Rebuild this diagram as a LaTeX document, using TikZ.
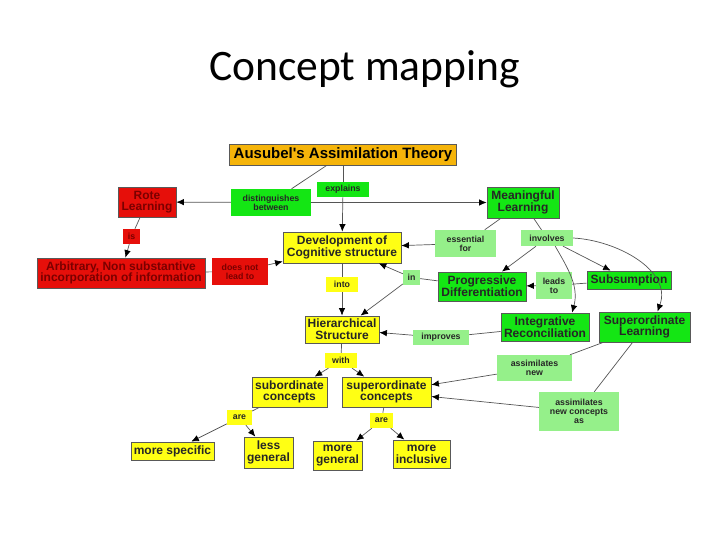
\documentclass[tikz,border=0pt]{standalone}
\usepackage{fontspec}
\setmainfont{Liberation Sans}
\newfontfamily\titlefont{Carlito}
\usetikzlibrary{arrows.meta,calc}
\definecolor{aorange}{HTML}{F5B40A}
\definecolor{ared}{HTML}{E60F0A}
\definecolor{adred}{HTML}{7A0000}
\definecolor{agreen}{HTML}{14E614}
\definecolor{alight}{HTML}{95F08A}
\definecolor{ayellow}{HTML}{FFFF14}
\definecolor{aline}{HTML}{555555}
\begin{document}
\begin{tikzpicture}[x=1pt,y=1pt,
 box/.style={draw=black!65,line width=.8pt,inner sep=0pt,align=center,font=\bfseries\fontsize{12}{11.7}\selectfont},
 lab/.style={inner sep=0pt,align=center,font=\bfseries\fontsize{8.8}{9.2}\selectfont},
 wh/.style 2 args={minimum width=#1,minimum height=#2},
 rd/.style={fill=ared,text=adred},gr/.style={fill=agreen,text=black!85},
 lg/.style={fill=alight,text=black!85},yl/.style={fill=ayellow,text=black!85},
 ln/.style={draw=aline,line width=.7pt},ar/.style={ln,-{Latex[length=7.5pt,width=6.5pt,color=black]}}]
\useasboundingbox(0,0)rectangle(728,-546);
\node[font=\titlefont\fontsize{43.5}{50}\selectfont,anchor=base](title)at(364.5,-80){Concept mapping};
% concepts and linking words
\node[box,fill=aorange,wh={227}{21},font=\bfseries\fontsize{15}{16}\selectfont](aus)at(343,-154.5){Ausubel\textquotesingle s Assimilation Theory};
\node[box,rd,wh={58}{30}](rote)at(147,-202){Rote\\Learning};
\node[lab,gr,wh={80}{27}](dist)at(271,-202.5){distinguishes\\between};
\node[lab,gr,wh={52}{15}](expl)at(343,-189.5){explains};
\node[box,gr,wh={72}{31}](mean)at(523,-202.5){Meaningful\\Learning};
\node[box,yl,wh={118}{31}](dev)at(342,-247.5){Development of\\Cognitive structure};
\node[lab,rd,wh={17}{15}](is)at(131.5,-236.5){is};
\node[box,rd,wh={168}{30}](arb)at(121,-273){Arbitrary, Non substantive\\incorporation of information};
\node[lab,rd,wh={56}{27}](dnl)at(240,-271.5){does not\\lead to};
\node[lab,lg,wh={61}{27}](ess)at(465.5,-243.5){essential\\for};
\node[lab,lg,wh={52}{16}](inv)at(547,-238){involves};
\node[box,gr,wh={88}{29}](prog)at(482,-286.5){Progressive\\Differentiation};
\node[lab,lg,wh={36}{27}](leads)at(554,-285.5){leads\\to};
\node[box,gr,wh={84}{18}](subs)at(629,-280){Subsumption};
\node[lab,lg,wh={17}{15}](in1)at(411.5,-277.5){in};
\node[lab,yl,wh={32}{15}](into)at(342,-284.5){into};
\node[box,yl,wh={74}{27}](hier)at(342,-329.5){Hierarchical\\Structure};
\node[lab,lg,wh={56}{15}](impr)at(441,-337.5){improves};
\node[box,gr,wh={88}{28}](integ)at(545,-327){Integrative\\Reconciliation};
\node[box,gr,wh={91}{30}](supl)at(644.5,-327){Superordinate\\Learning};
\node[lab,lg,wh={75}{26}](asn)at(534.5,-368){assimilates\\new};
\node[lab,lg,wh={80}{39}](asnc)at(579,-411.5){assimilates\\new concepts\\as};
\node[lab,yl,wh={32}{15}](wth)at(341,-360.5){with};
\node[box,yl,wh={75}{30}](sub)at(289.5,-392){subordinate\\concepts};
\node[box,yl,wh={89}{30}](sup)at(386.5,-392){superordinate\\concepts};
\node[lab,yl,wh={25}{15}](are1)at(239.5,-417.5){are};
\node[lab,yl,wh={23}{15}](are2)at(381.5,-420.5){are};
\node[box,yl,wh={83}{18}](ms)at(172.5,-451){more specific};
\node[box,yl,wh={49}{31}](lgen)at(268.5,-452.5){less\\general};
\node[box,yl,wh={49}{29}](mg)at(337.5,-455.5){more\\general};
\node[box,yl,wh={57}{28}](mi)at(421.5,-454){more\\inclusive};
% links
\draw[ln](aus)--(dist);\draw[ln](aus)--(expl);\draw[ar](expl)--(dev);
\draw[ar](dist)--(rote);\draw[ar](dist)--(mean);
\draw[ln](rote)--(is);\draw[ar](is)--(arb);
\draw[ln](arb)--(dnl);\draw[ar](dnl)--(dev);
\draw[ln](mean)--(ess);\draw[ar](ess)--(dev);
\draw[ln](mean)--(inv);\draw[ar](inv)--(prog);\draw[ar](inv)--(subs);
\draw[ar](inv.-45)to[out=-60,in=75](integ.28);
\draw[ar](inv.east)to[out=-3,in=70](supl.50);
\draw[ln](subs)--(leads);\draw[ar](leads)--(prog);
\draw[ln](prog)--(in1);\draw[ar](in1)--(dev);\draw[ar](in1)--(hier);
\draw[ln](dev)--(into);\draw[ar](into)--(hier);
\draw[ln](integ)--(impr);\draw[ar](impr)--(hier);
\draw[ln](hier)--(wth);\draw[ar](wth)--(sub);\draw[ar](wth)--(sup);
\draw[ln](supl)--(asn);\draw[ar](asn)--(sup);
\draw[ln](supl)--(asnc);\draw[ar](asnc)--(sup);
\draw[ln](sub)--(are1);\draw[ar](are1)--(ms);\draw[ar](are1)--(lgen);
\draw[ln](sup)--(are2);\draw[ar](are2)--(mg);\draw[ar](are2)--(mi);
\end{tikzpicture}
\end{document}
